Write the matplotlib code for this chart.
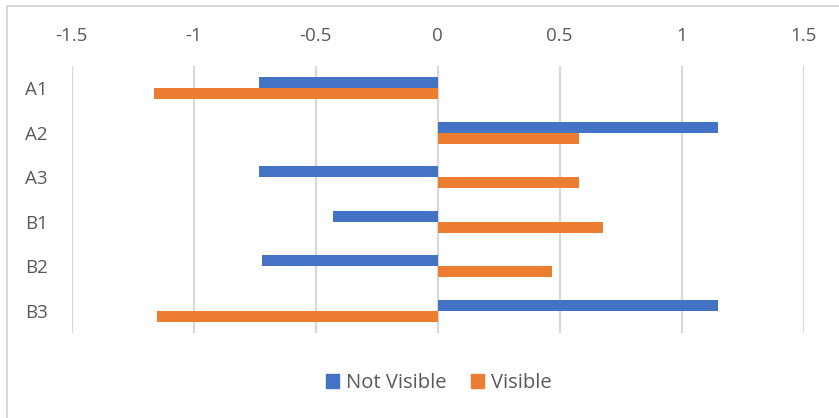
import matplotlib
matplotlib.use("Agg")
import matplotlib.pyplot as plt
from matplotlib.patches import Rectangle
from matplotlib.lines import Line2D
import numpy as np

categories = ["A1", "A2", "A3", "B1", "B2", "B3"]
not_visible = [-0.73, 1.15, -0.73, -0.43, -0.72, 1.15]
visible = [-1.16, 0.58, 0.58, 0.68, 0.47, -1.15]
x_ticks = [-1.5, -1, -0.5, 0, 0.5, 1, 1.5]
x_tick_labels = ["-1.5", "-1", "-0.5", "0", "0.5", "1", "1.5"]
series_names = ["Not Visible", "Visible"]

BLUE = "#4472C4"
ORANGE = "#ED7D31"
TEXT = "#595959"
GRID = "#D9D9D9"

plt.rcParams["font.family"] = ["Open Sans", "DejaVu Sans"]

W, H = 839, 418
fig = plt.figure(figsize=(W / 100, H / 100), dpi=100)
fig.patch.set_facecolor("white")

# chart frame (top and left edges visible)
fig.add_artist(Line2D([6.5 / W, 6.5 / W], [0, 1 - 5.5 / H], transform=fig.transFigure,
                      color=GRID, lw=1.5))
fig.add_artist(Line2D([6.5 / W, 1], [1 - 5.5 / H, 1 - 5.5 / H], transform=fig.transFigure,
                      color=GRID, lw=1.5))

left, right = 71.5 / W, 803.5 / W
top, bottom = 1 - 66 / H, 1 - 333 / H
ax = fig.add_axes([left, bottom, right - left, top - bottom])

y = np.arange(len(categories))
h = 0.245
ax.barh(y - h / 2, not_visible, height=h, color=BLUE, label=series_names[0], zorder=3)
ax.barh(y + h / 2, visible, height=h, color=ORANGE, label=series_names[1], zorder=3)

ax.set_xlim(-1.5, 1.5)
ax.set_ylim(len(categories) - 0.5, -0.5)

ax.set_xticks(x_ticks)
ax.set_xticklabels(x_tick_labels)
ax.set_yticks(y)
ax.set_yticklabels(categories)

ax.xaxis.tick_top()
ax.tick_params(axis="x", length=0, pad=15, labelsize=13.5, colors=TEXT)
ax.tick_params(axis="y", length=0, pad=17, labelsize=13.5, colors=TEXT)
for lbl in ax.get_yticklabels():
    lbl.set_horizontalalignment("right")

ax.grid(axis="x", color=GRID, lw=1.6, zorder=0)
ax.grid(axis="y", visible=False)
for s in ax.spines.values():
    s.set_visible(False)

handles = [Rectangle((0, 0), 1, 1, color=BLUE), Rectangle((0, 0), 1, 1, color=ORANGE)]
fig.legend(handles, series_names, loc="center", bbox_to_anchor=(439 / W, 1 - 383 / H),
           ncol=2, frameon=False, fontsize=14.5, labelcolor=TEXT,
           handlelength=0.65, handleheight=0.65, handletextpad=0.35,
           columnspacing=1.2)

fig.savefig("out.png", dpi=100, facecolor="white")
